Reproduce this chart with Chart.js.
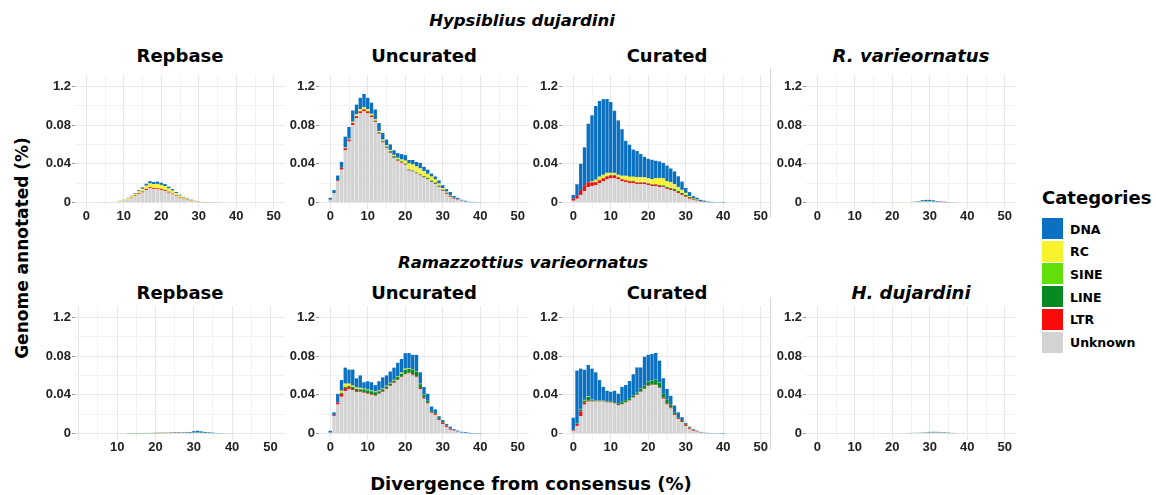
<!DOCTYPE html>
<html><head><meta charset="utf-8">
<script src="https://cdn.jsdelivr.net/npm/chart.js@4.4.1/dist/chart.umd.min.js"></script>
<style>
html,body{margin:0;padding:0;background:#fff;}
body{width:1156px;height:495px;position:relative;overflow:hidden;font-family:"DejaVu Sans",sans-serif;}
.t{position:absolute;white-space:nowrap;font-weight:bold;color:#000;transform:translate(-50%,-50%);}
.main{font-size:16.5px;font-style:italic;}
.pt{font-size:18px;}
.ax{font-size:18px;}
canvas{position:absolute;}
.lg{position:absolute;width:21px;height:21px;}
.ll{position:absolute;font-size:12.5px;font-weight:bold;transform:translateY(-50%);white-space:nowrap;}
.sep{position:absolute;width:1px;background:#d8d8d8;}
</style></head><body>

<div class="t main" style="left:522px;top:20px;">Hypsiblius dujardini</div>
<div class="t main" style="left:523px;top:262px;">Ramazzottius varieornatus</div>

<div class="t pt" style="left:180px;top:55px;">Repbase</div>
<div class="t pt" style="left:424px;top:55px;">Uncurated</div>
<div class="t pt" style="left:667px;top:55px;">Curated</div>
<div class="t pt" style="left:911px;top:55px;font-style:italic;">R. varieornatus</div>
<div class="t pt" style="left:180px;top:292px;">Repbase</div>
<div class="t pt" style="left:424px;top:292px;">Uncurated</div>
<div class="t pt" style="left:667px;top:292px;">Curated</div>
<div class="t pt" style="left:911px;top:292px;font-style:italic;">H. dujardini</div>

<div class="t ax" style="left:22px;top:248px;transform:translate(-50%,-50%) rotate(-90deg);font-size:17px;">Genome annotated (%)</div>
<div class="t ax" style="left:531px;top:483px;">Divergence from consensus (%)</div>

<div class="sep" style="left:770px;top:68px;height:150px;"></div>
<div class="sep" style="left:770px;top:298px;height:152px;"></div>

<div class="t" style="left:1042px;top:197px;transform:translateY(-50%);font-size:18px;">Categories</div>
<div id="legend"></div>

<canvas id="p1"></canvas><canvas id="p2"></canvas><canvas id="p3"></canvas><canvas id="p4"></canvas>
<canvas id="p5"></canvas><canvas id="p6"></canvas><canvas id="p7"></canvas><canvas id="p8"></canvas>

<script>
// ---------- categories and scale labels ----------
const categories = ['DNA','RC','SINE','LINE','LTR','Unknown'];
const categoryColors = ['#0a70c2','#f7f12e','#62df08','#078a22','#fb0a0a','#d3d3d3'];
const bins = [0,1,2,3,4,5,6,7,8,9,10,11,12,13,14,15,16,17,18,19,20,21,22,23,24,25,26,27,28,29,30,31,32,33,34,35,36,37,38,39,40];
const xTickValues = [0,10,20,30,40,50];
const xTickLabels = ['0','10','20','30','40','50'];
const xGridValues = [0,5,10,15,20,25,30,35,40,45,50];
const yTickValues = [0,0.04,0.08,0.12];
const yTickLabels = ['0','0.04','0.08','1.2'];
const yGridValues = [0,0.02,0.04,0.06,0.08,0.10,0.12];

// ---------- H. dujardini : Repbase ----------
const hdRepUnknown = [0,0,0,0,0,0.0001,0.0003,0.0006,0.0010,0.0018,0.0026,0.0036,0.0050,0.0068,0.0088,0.0105,0.0130,0.0148,0.0140,0.0138,0.0130,0.0120,0.0103,0.0086,0.0068,0.0050,0.0036,0.0026,0.0018,0.0012,0.0008,0.0006,0.0004,0.0003,0.0002,0.0001,0.0001,0,0,0,0];
const hdRepLTR = [0,0,0,0,0,0,0,0,0,0.0001,0.0002,0.0003,0.0004,0.0006,0.0008,0.0009,0.0010,0.0011,0.0010,0.0010,0.0010,0.0009,0.0008,0.0007,0.0006,0.0005,0.0004,0.0003,0.0003,0.0002,0.0002,0.0001,0.0001,0.0001,0.0001,0,0,0,0,0,0];
const hdRepLINE = [0,0,0,0,0,0,0,0,0,0,0,0,0.0001,0.0002,0.0002,0.0002,0.0002,0.0002,0.0002,0.0002,0.0002,0.0002,0.0002,0.0002,0.0002,0.0002,0.0002,0.0002,0.0001,0,0,0,0,0,0,0,0,0,0,0,0];
const hdRepSINE = [0,0,0,0,0,0,0,0,0,0,0,0,0,0,0,0.0001,0.0001,0.0001,0.0001,0.0001,0.0001,0.0001,0.0001,0.0001,0.0001,0,0,0,0,0,0,0,0,0,0,0,0,0,0,0,0];
const hdRepRC = [0,0,0,0,0,0,0,0,0.0003,0.0004,0.0005,0.0008,0.0012,0.0015,0.0020,0.0026,0.0032,0.0035,0.0038,0.0042,0.0040,0.0038,0.0033,0.0028,0.0022,0.0016,0.0012,0.0009,0.0006,0.0004,0.0003,0.0002,0.0001,0,0,0,0,0,0,0,0];
const hdRepDNA = [0,0,0,0,0,0,0,0,0,0,0.0002,0.0003,0.0005,0.0007,0.0010,0.0015,0.0020,0.0025,0.0022,0.0024,0.0022,0.0022,0.0018,0.0016,0.0012,0.0009,0.0007,0.0005,0.0003,0.0002,0.0002,0.0001,0.0001,0,0,0,0,0,0,0,0];

// ---------- H. dujardini : Uncurated ----------
const hdUncUnknown = [0.003,0.010,0.022,0.034,0.054,0.063,0.080,0.087,0.092,0.094,0.092,0.088,0.083,0.071,0.062,0.056,0.051,0.046,0.043,0.041,0.039,0.033,0.032,0.030,0.028,0.026,0.024,0.021,0.019,0.016,0.012,0.009,0.006,0.004,0.003,0.002,0.001,0.0006,0.0004,0.0002,0.0001];
const hdUncLTR = [0,0,0.001,0.002,0.002,0.002,0.002,0.002,0.002,0.002,0.002,0.0015,0.001,0.001,0.0008,0.0008,0.0008,0.0007,0.0006,0.0006,0.0006,0.0006,0.0005,0.0005,0.0005,0.0005,0.0005,0.0005,0.0005,0.0005,0.0006,0.0008,0.001,0.0008,0.0004,0.0002,0,0,0,0,0];
const hdUncLINE = [0,0,0,0,0.0002,0.0002,0.0003,0.0003,0.0003,0.0003,0.0003,0.0004,0.0005,0.0006,0.0008,0.001,0.0012,0.0012,0.001,0.0008,0.0006,0.0006,0.0006,0.0006,0.0006,0.0008,0.001,0.0012,0.0012,0.001,0.0008,0.0005,0.0003,0.0002,0.0001,0,0,0,0,0,0];
const hdUncSINE = [0,0,0,0,0.0001,0.0001,0.0001,0.0001,0.0001,0.0001,0.0001,0.0001,0.0001,0.0001,0.0001,0.0001,0.0001,0.0001,0.0001,0.0001,0.0001,0.0002,0.0002,0.0002,0.0002,0.0002,0.0002,0.0002,0.0002,0.0002,0.0001,0.0001,0.0001,0,0,0,0,0,0,0,0];
const hdUncRC = [0,0,0,0,0.0005,0.0005,0.001,0.0015,0.002,0.002,0.002,0.0015,0.0012,0.001,0.0012,0.0012,0.0012,0.0012,0.0015,0.002,0.003,0.006,0.006,0.006,0.006,0.005,0.004,0.004,0.003,0.002,0.0015,0.001,0.0005,0.0002,0,0,0,0,0,0,0];
const hdUncDNA = [0.002,0.003,0.005,0.006,0.0112,0.0122,0.0116,0.0101,0.0116,0.0136,0.0116,0.0115,0.0102,0.0083,0.0071,0.0059,0.0057,0.0048,0.0048,0.0055,0.0057,0.0036,0.0047,0.0047,0.0057,0.0045,0.0043,0.0031,0.0031,0.0033,0.003,0.0026,0.0031,0.0018,0.0015,0.0008,0.001,0.0004,0.0004,0.0003,0.0002];

// ---------- H. dujardini : Curated ----------
const hdCurUnknown = [0.002,0.004,0.008,0.012,0.016,0.017,0.018,0.020,0.022,0.024,0.025,0.025,0.024,0.022,0.021,0.020,0.020,0.019,0.019,0.019,0.018,0.017,0.017,0.016,0.016,0.014,0.013,0.012,0.010,0.008,0.006,0.004,0.003,0.002,0.001,0.0008,0.0005,0.0003,0.0002,0.0001,0];
const hdCurLTR = [0.002,0.003,0.005,0.006,0.005,0.004,0.003,0.003,0.003,0.003,0.003,0.003,0.002,0.002,0.002,0.002,0.002,0.0015,0.0015,0.0015,0.0015,0.0015,0.0015,0.0015,0.001,0.001,0.001,0.001,0.001,0.001,0.001,0.001,0.0008,0.0005,0.0003,0.0002,0,0,0,0,0];
const hdCurLINE = [0,0,0,0,0.0003,0.0003,0.0004,0.0005,0.0005,0.0005,0.0005,0.0005,0.0005,0.0005,0.0005,0.0005,0.0005,0.0005,0.0005,0.0005,0.0005,0.0005,0.0005,0.0008,0.0008,0.001,0.001,0.001,0.001,0.001,0.001,0.0008,0.0005,0.0003,0.0002,0.0001,0,0,0,0,0];
const hdCurSINE = [0,0,0,0,0,0.0002,0.0002,0.0002,0.0002,0.0002,0.0002,0.0002,0.0002,0.0002,0.0002,0.0002,0.0002,0.0002,0.0002,0.0002,0.0002,0.0002,0.0002,0.0002,0.0002,0.0002,0.0002,0.0002,0.0002,0.0002,0.0001,0.0001,0,0,0,0,0,0,0,0,0];
const hdCurRC = [0,0,0,0,0,0.0005,0.002,0.003,0.003,0.003,0.002,0.002,0.002,0.003,0.004,0.004,0.004,0.005,0.005,0.005,0.005,0.005,0.006,0.007,0.007,0.006,0.006,0.005,0.004,0.003,0.002,0.001,0.0005,0.0003,0,0,0,0,0,0,0];
const hdCurDNA = [0.004,0.012,0.027,0.039,0.060,0.068,0.076,0.078,0.078,0.076,0.073,0.064,0.056,0.048,0.036,0.033,0.028,0.027,0.024,0.021,0.020,0.020,0.018,0.017,0.016,0.016,0.014,0.013,0.011,0.0085,0.005,0.004,0.002,0.002,0.0015,0.001,0.0007,0.0005,0.0003,0.0002,0.0001];

// ---------- H. dujardini : R. varieornatus library ----------
const hdRvUnknown = [0,0,0,0,0,0,0,0,0,0,0,0,0,0,0,0.0002,0.0002,0.0002,0.0003,0.0003,0.0003,0.0004,0.0004,0.0005,0.0006,0.0008,0.001,0.001,0.0012,0.0012,0.0012,0.001,0.0008,0.0006,0.0005,0.0003,0.0002,0.0001,0,0,0];
const hdRvLTR = [0,0,0,0,0,0,0,0,0,0,0,0,0,0,0,0,0,0,0,0,0,0,0,0,0,0,0,0,0,0,0,0,0.0001,0.0003,0.0002,0,0,0,0,0,0];
const hdRvLINE = [0,0,0,0,0,0,0,0,0,0,0,0,0,0,0,0,0,0,0,0,0,0,0,0,0,0,0,0.0002,0.0004,0.0005,0.0005,0.0003,0.0001,0,0,0,0,0,0,0,0];
const hdRvSINE = [0,0,0,0,0,0,0,0,0,0,0,0,0,0,0,0,0,0,0,0,0,0,0,0,0,0,0,0,0,0,0,0,0,0,0,0,0,0,0,0,0];
const hdRvRC = [0,0,0,0,0,0,0,0,0,0,0,0,0,0,0,0,0,0,0,0,0,0,0.0001,0.0001,0.0001,0.0001,0.0001,0,0,0,0,0,0,0,0,0,0,0,0,0,0];
const hdRvDNA = [0,0,0,0,0,0,0,0,0,0,0,0,0,0,0,0,0,0,0,0,0,0,0,0,0,0,0.0003,0.0005,0.001,0.0012,0.0012,0.0012,0.0006,0.0004,0.0003,0.0003,0.0002,0,0,0,0];

// ---------- R. varieornatus : Repbase ----------
const rvRepUnknown = [0,0,0,0,0,0,0,0,0,0,0.0002,0.0002,0.0003,0.0003,0.0003,0.0004,0.0004,0.0004,0.0005,0.0005,0.0005,0.0005,0.0006,0.0006,0.0006,0.0007,0.0007,0.0008,0.0008,0.0008,0.0009,0.0009,0.0008,0.0007,0.0006,0.0005,0.0004,0.0003,0.0002,0.0001,0];
const rvRepLTR = [0,0,0,0,0,0,0,0,0,0,0,0,0,0,0,0,0,0,0,0,0.0002,0.0002,0.0002,0.0002,0.0002,0.0002,0.0002,0.0001,0,0,0,0,0,0,0,0,0,0,0,0,0];
const rvRepLINE = [0,0,0,0,0,0,0,0,0,0,0,0,0,0.0003,0.0003,0.0003,0.0003,0.0003,0.0003,0.0003,0.0003,0.0003,0.0003,0.0003,0.0003,0.0003,0.0003,0.0003,0.0003,0.0002,0.0002,0.0003,0.0004,0.0003,0.0002,0.0001,0,0,0,0,0];
const rvRepSINE = [0,0,0,0,0,0,0,0,0,0,0,0,0,0,0,0,0,0,0,0,0,0,0,0,0,0,0,0,0,0,0,0,0,0,0,0,0,0,0,0,0];
const rvRepRC = [0,0,0,0,0,0,0,0,0,0,0,0,0,0,0,0,0,0,0,0,0,0,0,0,0,0,0,0,0,0,0,0,0,0,0,0,0,0,0,0,0];
const rvRepDNA = [0,0,0,0,0,0,0,0,0,0,0,0,0,0,0,0,0,0,0,0,0,0,0,0,0.0002,0.0002,0.0003,0.0003,0.0005,0.0008,0.0015,0.0018,0.0012,0.0008,0.0006,0.0005,0.0003,0.0002,0.0001,0,0];

// ---------- R. varieornatus : Uncurated ----------
const rvUncUnknown = [0.001,0.018,0.030,0.038,0.044,0.046,0.045,0.043,0.043,0.042,0.041,0.040,0.039,0.041,0.043,0.046,0.049,0.052,0.055,0.058,0.061,0.062,0.060,0.058,0.046,0.036,0.031,0.021,0.019,0.014,0.010,0.007,0.004,0.003,0.002,0.001,0.0007,0.0004,0.0002,0.0001,0];
const rvUncLTR = [0,0.001,0.002,0.003,0.003,0.002,0.001,0.001,0.0007,0.0007,0.0007,0.0007,0.0007,0.0007,0.0007,0.0007,0.0007,0.0007,0.0007,0.0007,0.0007,0.0008,0.001,0.001,0.001,0.001,0.0008,0.001,0.001,0.001,0.001,0.0015,0.001,0.0005,0.0002,0,0,0,0,0,0];
const rvUncLINE = [0,0,0,0.001,0.001,0.001,0.002,0.002,0.002,0.003,0.003,0.003,0.003,0.002,0.002,0.002,0.002,0.002,0.003,0.003,0.004,0.004,0.005,0.005,0.004,0.003,0.002,0.001,0.001,0.001,0.0007,0.0005,0.0002,0.0001,0,0,0,0,0,0,0];
const rvUncSINE = [0,0,0,0.0002,0.0005,0.0005,0.0005,0.0005,0.0005,0.0002,0.0002,0.0002,0.0002,0.0002,0.0002,0.0002,0.0002,0.0002,0.0002,0.0002,0.0002,0.0002,0.0002,0.0002,0.0002,0.0001,0.0001,0,0,0,0,0,0,0,0,0,0,0,0,0,0];
const rvUncRC = [0,0,0,0.002,0.003,0.002,0.001,0.001,0.001,0.0005,0.0005,0.0005,0.0005,0.0005,0.0005,0.0005,0.0005,0.0005,0.0005,0.001,0.001,0.0005,0.0002,0.0002,0.0002,0.0002,0,0,0,0,0,0,0,0,0,0,0,0,0,0,0];
const rvUncDNA = [0.002,0.003,0.009,0.011,0.0165,0.0145,0.0165,0.0095,0.0128,0.0066,0.0086,0.0086,0.0066,0.0096,0.0116,0.0106,0.0116,0.0126,0.0136,0.014,0.016,0.0155,0.0148,0.0168,0.0118,0.0078,0.0072,0.005,0.004,0.002,0.0023,0.001,0.002,0.001,0.001,0.001,0.0008,0.0006,0.0004,0.0004,0.0002];

// ---------- R. varieornatus : Curated ----------
const rvCurUnknown = [0.003,0.008,0.018,0.030,0.033,0.033,0.033,0.033,0.033,0.032,0.032,0.031,0.029,0.030,0.032,0.034,0.037,0.040,0.043,0.046,0.049,0.050,0.050,0.047,0.036,0.030,0.026,0.019,0.015,0.012,0.008,0.005,0.003,0.002,0.001,0.0006,0.0004,0.0002,0,0,0];
const rvCurLTR = [0.001,0.002,0.005,0.002,0.001,0.0005,0.0005,0.0005,0.0005,0.0005,0.0005,0.0005,0.0005,0.0005,0.0005,0.0005,0.0005,0.0005,0.0005,0.0005,0.0005,0.0005,0.0005,0.0005,0.001,0.001,0.001,0.001,0.001,0.001,0.0012,0.0012,0.0008,0.0004,0.0002,0,0,0,0,0,0];
const rvCurLINE = [0,0.0005,0.002,0.002,0.004,0.001,0.0005,0.0005,0.0005,0.0005,0.001,0.001,0.001,0.002,0.002,0.002,0.002,0.002,0.003,0.003,0.004,0.004,0.005,0.005,0.004,0.004,0.003,0.002,0.001,0.001,0.001,0.0005,0.0002,0.0001,0,0,0,0,0,0,0];
const rvCurSINE = [0,0,0.0003,0.0005,0.0005,0.0003,0.0002,0.0002,0.0002,0.0002,0.0002,0.0002,0.0002,0.0002,0.0002,0.0002,0.0002,0.0002,0.0002,0.0002,0.0002,0.0002,0.0002,0.0002,0.0001,0.0001,0,0,0,0,0,0,0,0,0,0,0,0,0,0,0];
const rvCurRC = [0,0,0.0002,0.0003,0.0003,0.0002,0,0,0,0,0,0,0,0,0,0,0,0,0,0,0,0,0,0,0,0,0,0,0,0,0,0,0,0,0,0,0,0,0,0,0];
const rvCurDNA = [0.0125,0.0545,0.0415,0.031,0.032,0.032,0.029,0.021,0.014,0.011,0.0095,0.0115,0.0105,0.0155,0.0155,0.0175,0.0215,0.0255,0.0215,0.0295,0.0275,0.0275,0.0275,0.0225,0.016,0.011,0.009,0.007,0.005,0.003,0.001,0.0005,0.0007,0.0006,0.0007,0.0004,0.0004,0.0003,0.0003,0.0002,0.0001];

// ---------- R. varieornatus : H. dujardini library ----------
const rvHdUnknown = [0,0,0,0,0,0,0,0,0,0,0,0,0,0,0,0,0,0,0.0002,0.0002,0.0003,0.0003,0.0004,0.0004,0.0005,0.0006,0.0007,0.0008,0.0009,0.001,0.001,0.001,0.001,0.0009,0.0008,0.0006,0.0005,0.0003,0.0002,0.0001,0];
const rvHdLTR = [0,0,0,0,0,0,0,0,0,0,0,0,0,0,0,0,0,0,0,0,0,0,0,0,0,0,0,0,0,0,0.0001,0.0001,0.0001,0,0,0,0,0,0,0,0];
const rvHdLINE = [0,0,0,0,0,0,0,0,0,0,0,0,0,0,0,0,0,0,0,0,0,0,0,0,0.0002,0.0002,0.0002,0.0002,0.0002,0.0002,0.0002,0.0002,0.0002,0.0002,0.0003,0.0003,0.0002,0.0001,0,0,0];
const rvHdSINE = [0,0,0,0,0,0,0,0,0,0,0,0,0,0,0,0,0,0,0,0,0,0,0,0,0,0,0,0,0,0,0,0,0,0,0,0,0,0,0,0,0];
const rvHdRC = [0,0,0,0,0,0,0,0,0,0,0,0,0,0,0,0,0,0,0,0,0,0,0,0,0,0,0,0,0,0,0,0,0,0,0,0,0,0,0,0,0];
const rvHdDNA = [0,0,0,0,0,0,0,0,0,0,0,0,0,0,0,0,0,0,0,0,0,0,0,0,0,0,0,0,0.0002,0.0004,0.0006,0.0007,0.0006,0.0004,0.0003,0.0002,0.0001,0,0,0,0];

// ---------- layout ----------
const AXW = 45, PADT = 12, PADR = 12, AXH = 22, CW = 210, CH = 134;

function near(list, v){ return typeof v === 'number' && list.some(a => Math.abs(a - v) < 1e-9); }
function tv(c){ return (c && c.tick) ? c.tick.value : NaN; }

function buildConfig(xMin, xMax, xLabelsShown, s){
  // stack order: bottom -> top
  const order = [[s.Unknown,'Unknown'],[s.LTR,'LTR'],[s.LINE,'LINE'],[s.SINE,'SINE'],[s.RC,'RC'],[s.DNA,'DNA']];
  const datasets = order.map(([arr,name]) => ({
    label: name, data: arr,
    backgroundColor: categoryColors[categories.indexOf(name)],
    borderWidth: 0, barPercentage: 1.0, categoryPercentage: 0.9
  }));
  return {
    type: 'bar',
    data: { labels: bins, datasets },
    options: {
      responsive: false, maintainAspectRatio: false, animation: false, devicePixelRatio: 1,
      layout: { padding: { top: PADT, right: PADR, left: 0, bottom: 0 } },
      plugins: { legend: { display: false }, tooltip: { enabled: false } },
      scales: {
        x: {
          type: 'linear', stacked: true, min: xMin, max: xMax, offset: false,
          afterBuildTicks: sc => { sc.ticks = xGridValues.map(v => ({ value: v })); },
          afterFit: sc => { sc.height = AXH; },
          border: { display: false },
          grid: {
            drawTicks: false, offset: false,
            color: c => near(xTickValues, tv(c)) ? '#e7e7e7' : '#f2f2f2',
            lineWidth: 1
          },
          ticks: {
            padding: 0, maxRotation: 0, autoSkip: false,
            color: '#222', font: { family: 'Liberation Sans', size: 13, weight: 'bold' },
            callback: v => {
              const i = xTickValues.findIndex(a => Math.abs(a - v) < 1e-9);
              return (i >= 0 && xLabelsShown.includes(xTickValues[i])) ? xTickLabels[i] : '';
            }
          }
        },
        y: {
          stacked: true, min: -0.0065, max: 0.1315,
          afterBuildTicks: sc => { sc.ticks = yGridValues.map(v => ({ value: v })); },
          afterFit: sc => { sc.width = AXW; },
          border: { display: false },
          grid: {
            drawTicks: true, tickLength: 3,
            tickColor: c => near(yTickValues, tv(c)) ? '#9a9a9a' : 'rgba(0,0,0,0)',
            color: c => near(yTickValues, tv(c)) ? '#e7e7e7' : '#f2f2f2',
            lineWidth: 1
          },
          ticks: {
            padding: 1, autoSkip: false,
            color: '#222', font: { family: 'Liberation Sans', size: 13, weight: 'bold' },
            callback: v => {
              const i = yTickValues.findIndex(a => Math.abs(a - v) < 1e-9);
              return i >= 0 ? yTickLabels[i] : '';
            }
          }
        }
      }
    }
  };
}

function sizeCanvas(cv, w, h){
  cv.width = w; cv.height = h;
  cv.style.width = w + 'px'; cv.style.height = h + 'px';
}

function makePanel(id, left, top, xMin, xMax, xLabelsShown, s){
  const cv = document.getElementById(id);
  let w = AXW + CW + PADR, h = PADT + CH + AXH;
  sizeCanvas(cv, w, h);
  // first pass: measure how Chart.js lays out the plot area
  let chart = new Chart(cv, buildConfig(xMin, xMax, xLabelsShown, s));
  let ca = chart.chartArea;
  const dw = CW - (ca.right - ca.left), dh = CH - (ca.bottom - ca.top);
  chart.destroy();
  w = Math.round(w + dw); h = Math.round(h + dh);
  sizeCanvas(cv, w, h);
  chart = new Chart(cv, buildConfig(xMin, xMax, xLabelsShown, s));
  ca = chart.chartArea;
  cv.style.left = (left - ca.left) + 'px';
  cv.style.top = (top - ca.top) + 'px';
}

const allX = [0,10,20,30,40,50];
const TOP1 = 75, TOP2 = 306;
const LEFTS = [75, 319, 562, 806];

// legend (real text)
const lg = document.getElementById('legend');
categories.forEach((c, i) => {
  const y = 218 + i * 22.7;
  const b = document.createElement('div'); b.className = 'lg';
  b.style.left = '1042px'; b.style.top = y + 'px'; b.style.background = categoryColors[i];
  lg.appendChild(b);
  const t = document.createElement('div'); t.className = 'll';
  t.style.left = '1070px'; t.style.top = (y + 10.5) + 'px'; t.textContent = c;
  lg.appendChild(t);
});

makePanel('p1', LEFTS[0], TOP1, -3, 53, allX, {Unknown:hdRepUnknown, LTR:hdRepLTR, LINE:hdRepLINE, SINE:hdRepSINE, RC:hdRepRC, DNA:hdRepDNA});
makePanel('p2', LEFTS[1], TOP1, -3, 53, allX, {Unknown:hdUncUnknown, LTR:hdUncLTR, LINE:hdUncLINE, SINE:hdUncSINE, RC:hdUncRC, DNA:hdUncDNA});
makePanel('p3', LEFTS[2], TOP1, -3, 53, allX, {Unknown:hdCurUnknown, LTR:hdCurLTR, LINE:hdCurLINE, SINE:hdCurSINE, RC:hdCurRC, DNA:hdCurDNA});
makePanel('p4', LEFTS[3], TOP1, -3, 53, allX, {Unknown:hdRvUnknown, LTR:hdRvLTR, LINE:hdRvLINE, SINE:hdRvSINE, RC:hdRvRC, DNA:hdRvDNA});
makePanel('p5', LEFTS[0], TOP2, -1, 53.8, [10,20,30,40,50], {Unknown:rvRepUnknown, LTR:rvRepLTR, LINE:rvRepLINE, SINE:rvRepSINE, RC:rvRepRC, DNA:rvRepDNA});
makePanel('p6', LEFTS[1], TOP2, -3, 53, allX, {Unknown:rvUncUnknown, LTR:rvUncLTR, LINE:rvUncLINE, SINE:rvUncSINE, RC:rvUncRC, DNA:rvUncDNA});
makePanel('p7', LEFTS[2], TOP2, -3, 53, allX, {Unknown:rvCurUnknown, LTR:rvCurLTR, LINE:rvCurLINE, SINE:rvCurSINE, RC:rvCurRC, DNA:rvCurDNA});
makePanel('p8', LEFTS[3], TOP2, -3, 53, allX, {Unknown:rvHdUnknown, LTR:rvHdLTR, LINE:rvHdLINE, SINE:rvHdSINE, RC:rvHdRC, DNA:rvHdDNA});
</script>
</body></html>
